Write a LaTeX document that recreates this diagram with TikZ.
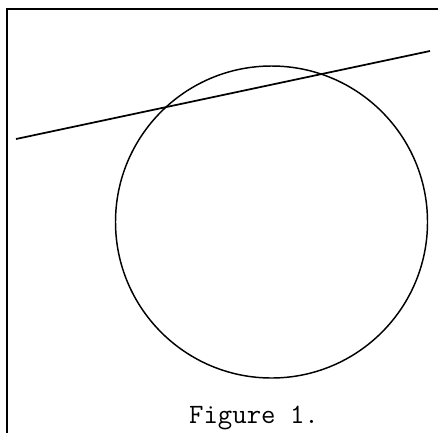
\documentclass[tikz,border=0pt]{standalone}
\usepackage{tikz}
\usetikzlibrary{positioning}

\begin{document}
\begin{tikzpicture}[
        x=0.75pt, y=-0.75pt,
        frame/.style={draw=black, line width=2.2pt},
        curve/.style={draw=black, line width=1.1pt},
        caption/.style={font=\ttfamily\fontsize{21}{25}\selectfont, anchor=base}
    ]
    \useasboundingbox (0,0) rectangle (438,433);

    \draw [frame] (7,433) -- (7,9) -- (438,9);

    \coordinate (centre) at (271.5,222);
    \draw [curve] (centre) circle [radius=117pt];

    \coordinate (start) at (16,139);
    \coordinate (finish) at (430,51);
    \draw [curve, line width=1.3pt] (start) -- (finish);

    \node (title) [caption] at (254,423) {Figure 1.};

    \end{tikzpicture}
\end{document}
